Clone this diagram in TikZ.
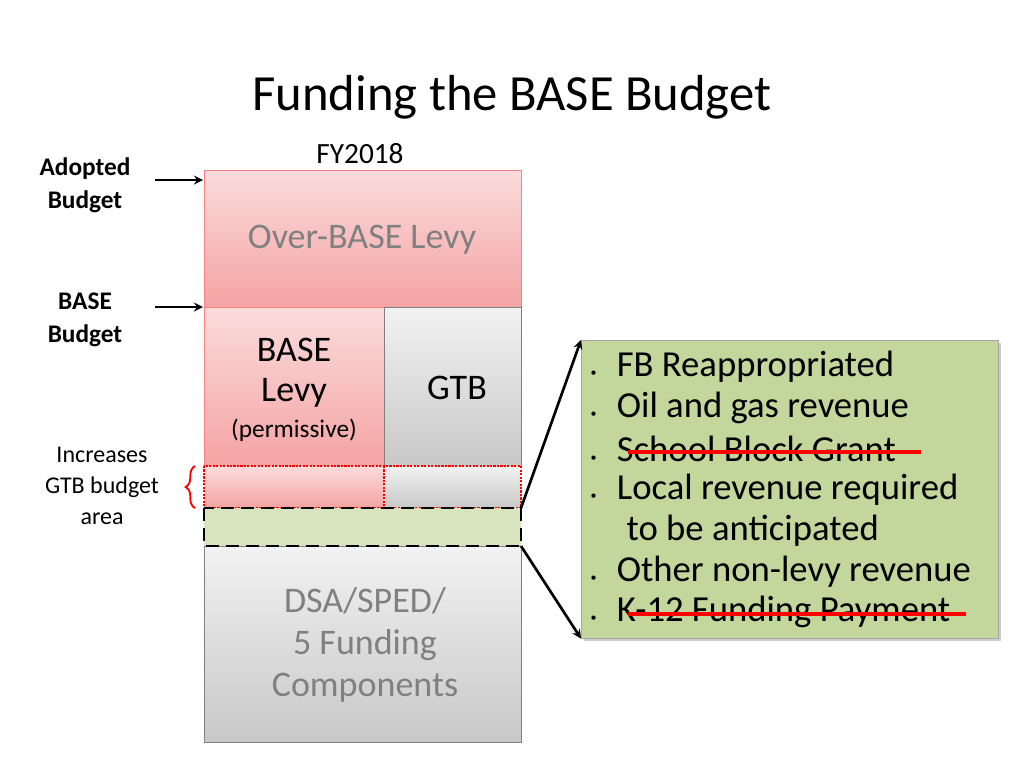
\documentclass[tikz,border=0pt]{standalone}
\usepackage{fontspec}
\setmainfont{Carlito}
\usetikzlibrary{decorations.pathreplacing,shadows}
\definecolor{pinkL}{HTML}{FBDCDC}
\definecolor{pinkD}{HTML}{F4A3A3}
\definecolor{grayL}{HTML}{F2F2F2}
\definecolor{grayD}{HTML}{C8C8C8}
\definecolor{greenS}{HTML}{D7E4BD}
\definecolor{greenB}{HTML}{C3D69B}
\definecolor{txtG}{HTML}{808080}
\begin{document}
\begin{tikzpicture}[x=0.75pt,y=-0.75pt,
  pinkbox/.style={draw=pinkD!80!red, top color=pinkL, bottom color=pinkD, line width=0.6pt},
  graybox/.style={draw=gray, top color=grayL, bottom color=grayD, line width=0.6pt},
  lbl/.style={font=\fontsize{19}{25}\selectfont\bfseries, align=center},
  arr/.style={-stealth, line width=2pt},
  bul/.style={font=\fontsize{27.5}{30}\selectfont, anchor=west}]
\useasboundingbox (0,0) rectangle (1024,768);
\node (title) at (512,97) {\fontsize{38}{44}\selectfont Funding the BASE Budget};
\node (fy) at (360,154) {\fontsize{22}{26}\selectfont FY2018};
% boxes
\draw[pinkbox] (204,170) rectangle (521,307);
\node[txtG] (over) at (362,240) {\fontsize{27}{32}\selectfont Over-BASE Levy};
\draw[pinkbox] (204,307) rectangle (384,466);
\node[align=center, font=\fontsize{27}{30}\selectfont] (base) at (294,373) {BASE\\Levy};
\node[font=\fontsize{19}{22}\selectfont] (perm) at (294,430) {(permissive)};
\draw[graybox] (384,307) rectangle (521,466);
\node (gtb) at (457,388) {\fontsize{27}{32}\selectfont GTB};
\draw[draw=none, top color=pinkL, bottom color=pinkD] (204,466) rectangle (384,508);
\draw[draw=none, top color=grayL, bottom color=grayD] (384,466) rectangle (521,508);
\draw[red, densely dotted, line width=1.6pt] (204,466) rectangle (521,508) (384,466) -- (384,508);
\fill[greenS] (204,508) rectangle (521,546);
\draw[graybox] (204,546) rectangle (521,742);
\draw[dashed, line width=2pt, dash pattern=on 10pt off 5pt] (204,508) rectangle (521,546);
\node[txtG, align=center, font=\fontsize{27}{31.5}\selectfont] (dsa) at (365,645) {DSA/SPED/\\5 Funding\\Components};
% left labels
\node[lbl] (ab) at (85,185) {Adopted\\Budget};
\node[lbl] (bb) at (85,320) {BASE\\Budget};
\coordinate (a1) at (155,180); \coordinate (a2) at (203,180);
\coordinate (b1) at (155,307); \coordinate (b2) at (203,307);
\draw[arr] (a1) -- (a2);
\draw[arr] (b1) -- (b2);
\node[align=center, font=\fontsize{18}{23.5}\selectfont] (inc) at (102,486) {Increases\\GTB budget\\area};
\draw[red, line width=1.4pt, decorate, decoration={brace, amplitude=7pt, mirror}] (195,466) -- (195,508);
% right box
\node[draw=gray!70, fill=greenB, drop shadow={opacity=0.4}, minimum width=417*0.75pt, minimum height=298*0.75pt, anchor=north west, inner sep=0] (rb) at (581,340) {};
\node[bul] (t1) at (586,367) {{\small\textbullet}\hspace{0.55em}FB Reappropriated};
\node[bul] (t2) at (586,408) {{\small\textbullet}\hspace{0.55em}Oil and gas revenue};
\node[bul] (t3) at (586,449) {{\small\textbullet}\hspace{0.55em}School Block Grant};
\node[bul] (t4) at (586,490) {{\small\textbullet}\hspace{0.55em}Local revenue required};
\node[bul] (t5) at (622,531) {to be anticipated};
\node[bul] (t6) at (586,572) {{\small\textbullet}\hspace{0.55em}Other non-levy revenue};
\node[bul] (t7) at (586,612) {{\small\textbullet}\hspace{0.55em}K-12 Funding Payment};
\draw[red, line width=2.5pt] (628,452) -- (921,452);
\draw[red, line width=2.5pt] (628,614) -- (966,614);
\coordinate (g1) at (521,508); \coordinate (g2) at (521,546);
\draw[arr] (g1) -- (rb.north west);
\draw[arr] (g2) -- (rb.south west);
\end{tikzpicture}
\end{document}
